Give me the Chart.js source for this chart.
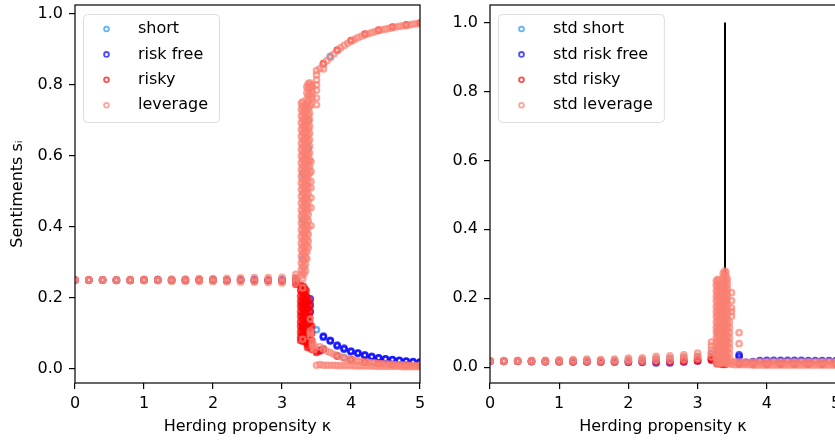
<!DOCTYPE html>
<html>
<head>
<meta charset="utf-8">
<script src="https://cdn.jsdelivr.net/npm/chart.js@4.4.0/dist/chart.umd.min.js"></script>
<style>
html, body { margin: 0; padding: 0; background: #fff; overflow: hidden; }
#wrap { position: relative; width: 835px; height: 441px; }
.panel { position: absolute; top: 0; }
#leftPanel { left: 0; }
#rightPanel { left: 425px; }
</style>
</head>
<body>
<div id="wrap">
  <div class="panel" id="leftPanel"><canvas id="sentimentChart" width="425" height="441"></canvas></div>
  <div class="panel" id="rightPanel"><canvas id="stdChart" width="420" height="441"></canvas></div>
</div>
<script>
// axis ticks
const kappaTicks = [0, 1, 2, 3, 4, 5];
const levelTicks = [0, 0.2, 0.4, 0.6, 0.8, 1.0];

const seriesNames = ['short', 'risk free', 'risky', 'leverage'];
const stdNames = ['std short', 'std risk free', 'std risky', 'std leverage'];

// each entry: [kappa, values over runs]
const shortSentiment = [
  [0, [0.25]], [0.2, [0.25]], [0.4, [0.25]], [0.6, [0.25]], [0.8, [0.25]], [1, [0.25]],
  [1.2, [0.25]], [1.4, [0.25]], [1.6, [0.251]], [1.8, [0.25]], [2, [0.249]], [2.2, [0.25]],
  [2.4, [0.251]], [2.6, [0.25]], [2.8, [0.249]], [3, [0.251]], [3.2, [0.248, 0.255]],
  [3.3, [0.31, 0.42, 0.55]], [3.38, [0.62, 0.7]],
  [3.5, [0.11]], [3.6, [0.056]], [3.7, [0.88]], [3.8, [0.037]], [3.9, [0.031]], [4, [0.026]],
  [4.2, [0.019]], [4.4, [0.015]], [4.6, [0.012]], [4.8, [0.01]], [5, [0.009]]
];

const riskFreeSentiment = [
  [0, [0.25]], [0.2, [0.25]], [0.4, [0.25]], [0.6, [0.25]], [0.8, [0.249]], [1, [0.25]],
  [1.2, [0.251]], [1.4, [0.25]], [1.6, [0.249]], [1.8, [0.25]], [2, [0.251]], [2.2, [0.249]],
  [2.4, [0.25]], [2.6, [0.251]], [2.8, [0.249]], [3, [0.25]], [3.2, [0.244, 0.252]],
  [3.3, [0.12, 0.18]], [3.41, [0.197, 0.18, 0.161]], [3.55, [0.052]],
  [3.6, [0.092, 0.089]], [3.7, [0.08, 0.078]], [3.8, [0.067, 0.064]], [3.9, [0.058, 0.055]],
  [4, [0.05, 0.048]], [4.1, [0.045, 0.043]], [4.2, [0.039, 0.037]], [4.3, [0.035, 0.033]],
  [4.4, [0.031, 0.03]], [4.5, [0.028, 0.027]], [4.6, [0.026, 0.025]], [4.7, [0.024, 0.023]],
  [4.8, [0.022, 0.021]], [4.9, [0.02, 0.019]], [5, [0.019, 0.018]]
];

const riskySentiment = [
  [0, [0.25]], [0.2, [0.25]], [0.4, [0.25]], [0.6, [0.249]], [0.8, [0.25]], [1, [0.251]],
  [1.2, [0.25]], [1.4, [0.249]], [1.6, [0.25]], [1.8, [0.251]], [2, [0.25]], [2.2, [0.249]],
  [2.4, [0.25]], [2.6, [0.248]], [2.8, [0.25]], [3, [0.247]], [3.2, [0.238, 0.245, 0.25]],
  [3.27, [0.235, 0.221, 0.205, 0.19, 0.177, 0.161, 0.148, 0.132, 0.119, 0.104, 0.09, 0.08]],
  [3.29, [0.228, 0.214, 0.198, 0.185, 0.17, 0.154, 0.141, 0.126, 0.111, 0.097, 0.083]],
  [3.31, [0.232, 0.217, 0.203, 0.187, 0.172, 0.158, 0.144, 0.129, 0.114, 0.1, 0.086, 0.077]],
  [3.33, [0.225, 0.21, 0.195, 0.181, 0.167, 0.152, 0.137, 0.123, 0.108, 0.094, 0.08]],
  [3.35, [0.22, 0.205, 0.19, 0.176, 0.161, 0.147, 0.131, 0.118, 0.103, 0.089, 0.075]],
  [3.37, [0.2, 0.185, 0.17, 0.156, 0.141, 0.127, 0.112, 0.098, 0.083, 0.069, 0.06]],
  [3.4, [0.19, 0.175, 0.161, 0.146, 0.131, 0.117, 0.102, 0.088, 0.073, 0.062]],
  [3.43, [0.12, 0.1, 0.08, 0.065, 0.055]],
  [3.5, [0.05, 0.046]], [3.55, [0.05]],
  [3.6, [0.86, 0.055]], [3.8, [0.898, 0.036]], [4, [0.925, 0.026]], [4.2, [0.943, 0.019]],
  [4.4, [0.954, 0.015]], [4.6, [0.963, 0.012]], [4.8, [0.969, 0.01]], [5, [0.974, 0.009]]
];

const leverageSentiment = [
  [0, [0.249, 0.25, 0.251]], [0.2, [0.249, 0.25, 0.251]], [0.4, [0.249, 0.25, 0.251]],
  [0.6, [0.249, 0.25, 0.251]], [0.8, [0.248, 0.25, 0.252]], [1, [0.248, 0.25, 0.252]],
  [1.2, [0.248, 0.25, 0.252]], [1.4, [0.247, 0.25, 0.253]], [1.6, [0.247, 0.25, 0.253]],
  [1.8, [0.246, 0.25, 0.254]], [2, [0.246, 0.25, 0.254]], [2.2, [0.245, 0.25, 0.255]],
  [2.4, [0.244, 0.25, 0.256]], [2.6, [0.244, 0.25, 0.257]], [2.8, [0.243, 0.25, 0.257]],
  [3, [0.242, 0.25, 0.258]], [3.2, [0.242, 0.25, 0.258, 0.266]],
  [3.28, [0.262, 0.279, 0.298, 0.317, 0.336, 0.354, 0.373, 0.392, 0.411, 0.43, 0.448, 0.467, 0.486, 0.505,
          0.524, 0.542, 0.561, 0.58, 0.599, 0.618, 0.636, 0.655, 0.674, 0.693, 0.712, 0.731, 0.748]],
  [3.3, [0.254, 0.271, 0.289, 0.308, 0.327, 0.345, 0.364, 0.383, 0.402, 0.421, 0.439, 0.458, 0.477, 0.496,
         0.515, 0.533, 0.552, 0.571, 0.59, 0.609, 0.627, 0.646, 0.665, 0.684, 0.703, 0.722, 0.74, 0.752,
         0.228, 0.083]],
  [3.32, [0.268, 0.287, 0.305, 0.324, 0.342, 0.361, 0.38, 0.398, 0.417, 0.436, 0.455, 0.473, 0.492, 0.511,
          0.53, 0.548, 0.567, 0.586, 0.604, 0.623, 0.642, 0.66, 0.679, 0.698, 0.717, 0.735]],
  [3.34, [0.276, 0.294, 0.313, 0.332, 0.35, 0.369, 0.388, 0.406, 0.425, 0.444, 0.463, 0.481, 0.5, 0.519,
          0.538, 0.556, 0.575, 0.594, 0.612, 0.631, 0.65, 0.668, 0.687, 0.706, 0.725, 0.744]],
  [3.36, [0.31, 0.329, 0.348, 0.366, 0.385, 0.404, 0.422, 0.441, 0.46, 0.478, 0.497, 0.516, 0.535, 0.553,
          0.572, 0.591, 0.609, 0.628, 0.647, 0.666, 0.684, 0.703, 0.722, 0.741, 0.759, 0.778, 0.795]],
  [3.38, [0.342, 0.36, 0.379, 0.398, 0.417, 0.435, 0.454, 0.473, 0.491, 0.51, 0.529, 0.547, 0.566, 0.585,
          0.604, 0.622, 0.641, 0.66, 0.678, 0.697, 0.716, 0.735, 0.753, 0.772, 0.79, 0.803]],
  [3.4, [0.552, 0.571, 0.589, 0.608, 0.627, 0.645, 0.664, 0.683, 0.702, 0.72, 0.739, 0.758, 0.776, 0.794, 0.806]],
  [3.41, [0.14, 0.107, 0.1, 0.09]],
  [3.42, [0.744, 0.584, 0.556, 0.528, 0.51, 0.482, 0.454, 0.403, 0.77, 0.79, 0.8]],
  [3.44, [0.762, 0.78, 0.797, 0.075, 0.068, 0.06]],
  [3.47, [0.065, 0.055]],
  [3.5, [0.744, 0.763, 0.785, 0.8, 0.814, 0.828, 0.84, 0.01]],
  [3.55, [0.846, 0.062, 0.012]], [3.6, [0.845, 0.858, 0.056, 0.01]], [3.65, [0.868, 0.05, 0.01]],
  [3.7, [0.877, 0.046, 0.01]], [3.75, [0.887, 0.041, 0.01]], [3.8, [0.896, 0.037, 0.009]],
  [3.85, [0.904, 0.034, 0.009]], [3.9, [0.911, 0.031, 0.009]], [3.95, [0.917, 0.028, 0.009]],
  [4, [0.923, 0.026, 0.009]], [4.05, [0.928, 0.024, 0.008]], [4.1, [0.933, 0.022, 0.008]],
  [4.15, [0.937, 0.02, 0.008]], [4.2, [0.941, 0.019, 0.008]], [4.25, [0.944, 0.018, 0.008]],
  [4.3, [0.947, 0.017, 0.008]], [4.35, [0.95, 0.016, 0.007]], [4.4, [0.953, 0.015, 0.007]],
  [4.45, [0.955, 0.014, 0.007]], [4.5, [0.957, 0.014, 0.007]], [4.55, [0.959, 0.013, 0.007]],
  [4.6, [0.961, 0.012, 0.007]], [4.65, [0.963, 0.012, 0.007]], [4.7, [0.965, 0.011, 0.007]],
  [4.75, [0.966, 0.011, 0.006]], [4.8, [0.968, 0.01, 0.006]], [4.85, [0.969, 0.01, 0.006]],
  [4.9, [0.971, 0.01, 0.006]], [4.95, [0.972, 0.009, 0.006]], [5, [0.974, 0.009, 0.006]]
];

// standard deviations across runs
const shortStd = [
  [0, [0.018]], [0.2, [0.018]], [0.4, [0.018]], [0.6, [0.018]], [0.8, [0.018]], [1, [0.019]],
  [1.2, [0.019]], [1.4, [0.019]], [1.6, [0.019]], [1.8, [0.019]], [2, [0.02]], [2.2, [0.021]],
  [2.4, [0.023]], [2.6, [0.024]], [2.8, [0.027]], [3, [0.03]], [3.2, [0.04]],
  [3.3, [0.05, 0.1]], [3.4, [0.12, 0.2]],
  [3.6, [0.012]], [3.8, [0.011]], [4, [0.011]], [4.2, [0.011]], [4.4, [0.01]], [4.6, [0.01]], [4.8, [0.01]], [5, [0.01]]
];

const riskFreeStd = [
  [0, [0.017]], [0.2, [0.017]], [0.4, [0.017]], [0.6, [0.016]], [0.8, [0.016]], [1, [0.016]],
  [1.2, [0.015]], [1.4, [0.015]], [1.6, [0.015]], [1.8, [0.015]], [2, [0.014]], [2.2, [0.014]],
  [2.4, [0.012]], [2.6, [0.012]], [2.8, [0.015]], [3, [0.018]], [3.2, [0.022]],
  [3.3, [0.02, 0.05]], [3.4, [0.03, 0.08]], [3.6, [0.036, 0.03]],
  [3.7, [0.014]], [3.8, [0.016]], [3.9, [0.019]], [4, [0.02]], [4.1, [0.02]], [4.2, [0.02]],
  [4.3, [0.02]], [4.4, [0.02]], [4.5, [0.02]], [4.6, [0.019]], [4.7, [0.019]], [4.8, [0.019]],
  [4.9, [0.019]], [5, [0.019]]
];

const riskyStd = [
  [0, [0.017]], [0.2, [0.017]], [0.4, [0.017]], [0.6, [0.017]], [0.8, [0.016]], [1, [0.016]],
  [1.2, [0.016]], [1.4, [0.016]], [1.6, [0.015]], [1.8, [0.015]], [2, [0.015]], [2.2, [0.015]],
  [2.4, [0.016]], [2.6, [0.015]], [2.8, [0.016, 0.02]], [3, [0.018, 0.022]], [3.2, [0.02, 0.025, 0.03]],
  [3.28, [0.01, 0.02, 0.03]], [3.32, [0.01, 0.02]], [3.36, [0.008, 0.015]], [3.4, [0.008]],
  [3.6, [0.009]], [3.8, [0.008]], [4, [0.008]], [4.2, [0.008]], [4.4, [0.008]], [4.6, [0.008]],
  [4.8, [0.008]], [5, [0.008]]
];

const leverageStd = [
  [0, [0.017, 0.018, 0.019]], [0.2, [0.017, 0.018, 0.019]], [0.4, [0.017, 0.018, 0.02]],
  [0.6, [0.016, 0.018, 0.02]], [0.8, [0.016, 0.018, 0.02]], [1, [0.016, 0.019, 0.021]],
  [1.2, [0.016, 0.019, 0.022]], [1.4, [0.016, 0.019, 0.023]], [1.6, [0.016, 0.019, 0.022]],
  [1.8, [0.016, 0.019, 0.023]], [2, [0.017, 0.021, 0.026]], [2.2, [0.017, 0.022, 0.027]],
  [2.4, [0.019, 0.025, 0.031]], [2.6, [0.019, 0.026, 0.033]], [2.8, [0.021, 0.029, 0.036]],
  [3, [0.024, 0.032, 0.041]], [3.2, [0.03, 0.04, 0.05, 0.062, 0.073]],
  [3.27, [0.012, 0.026, 0.041, 0.057, 0.071, 0.086, 0.102, 0.116, 0.131, 0.147, 0.161, 0.176, 0.192, 0.206, 0.221, 0.237, 0.25]],
  [3.29, [0.018, 0.033, 0.048, 0.062, 0.078, 0.093, 0.108, 0.122, 0.138, 0.153, 0.168, 0.182, 0.198, 0.213, 0.228, 0.242, 0.255]],
  [3.31, [0.01, 0.025, 0.04, 0.055, 0.07, 0.085, 0.1, 0.115, 0.13, 0.145, 0.16, 0.175, 0.19, 0.205, 0.22, 0.235, 0.252]],
  [3.33, [0.015, 0.03, 0.045, 0.06, 0.075, 0.09, 0.105, 0.12, 0.135, 0.15, 0.165, 0.18, 0.195, 0.21, 0.225, 0.24]],
  [3.35, [0.012, 0.027, 0.042, 0.057, 0.072, 0.087, 0.102, 0.117, 0.132, 0.147, 0.162, 0.177, 0.192, 0.207, 0.222]],
  [3.37, [0.02, 0.035, 0.05, 0.065, 0.08, 0.095, 0.11, 0.125, 0.14, 0.155, 0.17, 0.185, 0.2, 0.215, 0.23, 0.245, 0.26, 0.272]],
  [3.39, [0.013, 0.028, 0.043, 0.058, 0.073, 0.088, 0.103, 0.118, 0.133, 0.148, 0.163, 0.178, 0.193, 0.208, 0.223, 0.238, 0.253, 0.268, 0.279]],
  [3.41, [0.01, 0.024, 0.039, 0.054, 0.069, 0.084, 0.099, 0.114, 0.129, 0.144, 0.159, 0.174, 0.189, 0.204, 0.219, 0.234, 0.249, 0.264, 0.276]],
  [3.43, [0.016, 0.031, 0.046, 0.061, 0.076, 0.091, 0.106, 0.121, 0.136, 0.151, 0.166, 0.181, 0.196, 0.211, 0.226, 0.24, 0.255]],
  [3.46, [0.01, 0.025, 0.04, 0.055, 0.07, 0.085, 0.1, 0.115, 0.13]],
  [3.49, [0.216, 0.193, 0.172, 0.161, 0.148]],
  [3.5, [0.016, 0.008]], [3.55, [0.015, 0.007]], [3.6, [0.1, 0.068, 0.015, 0.007]], [3.65, [0.015, 0.007]],
  [3.7, [0.014, 0.007]], [3.75, [0.014, 0.007]], [3.8, [0.015, 0.006]], [3.85, [0.014, 0.006]],
  [3.9, [0.015, 0.006]], [3.95, [0.014, 0.006]], [4, [0.015, 0.006]], [4.05, [0.014, 0.006]],
  [4.1, [0.015, 0.006]], [4.15, [0.014, 0.006]], [4.2, [0.015, 0.006]], [4.25, [0.014, 0.006]],
  [4.3, [0.015, 0.006]], [4.35, [0.014, 0.006]], [4.4, [0.015, 0.006]], [4.45, [0.014, 0.006]],
  [4.5, [0.015, 0.006]], [4.55, [0.014, 0.006]], [4.6, [0.015, 0.006]], [4.65, [0.014, 0.006]],
  [4.7, [0.015, 0.006]], [4.75, [0.014, 0.006]], [4.8, [0.015, 0.006]], [4.85, [0.014, 0.006]],
  [4.9, [0.015, 0.006]], [4.95, [0.014, 0.006]], [5, [0.015, 0.006]]
];

// vertical marker at the critical herding propensity
const criticalKappa = 3.396;
const criticalSpan = [0, 1];

const seriesColors = [
  'rgba(30, 144, 255, 0.7)',
  'rgba(0, 0, 255, 0.7)',
  'rgba(255, 0, 0, 0.7)',
  'rgba(250, 128, 114, 0.7)'
];

const FONT = { family: '"DejaVu Sans", sans-serif', size: 16 };

const toPoints = cols => cols.flatMap(([k, vals]) => vals.map(v => ({ x: k, y: v })));

function scatterSet(label, cols, i) {
    return {
        label: label,
        data: toPoints(cols),
        borderColor: seriesColors[i],
        backgroundColor: 'rgba(0,0,0,0)',
        pointRadius: 2.6,
        pointBorderWidth: 2.5,
        clip: 0,
        order: 4 - i   // later series drawn on top
    };
}

// axes box like matplotlib spines
const framePlugin = {
    id: 'axesFrame',
    afterDatasetsDraw(chart) {
        const { ctx, chartArea: a } = chart;
        ctx.save();
        ctx.strokeStyle = '#000';
        ctx.lineWidth = 1.2;
        ctx.strokeRect(a.left, a.top, a.right - a.left, a.bottom - a.top);
        ctx.restore();
    }
};

const boxLegend = {
    id: 'boxLegend',
    afterDatasetsDraw(chart, args, opts) {
        const ctx = chart.ctx;
        const x0 = chart.chartArea.left + 8, y0 = 14;
        ctx.save();
        ctx.font = '16px "DejaVu Sans"';
        const textW = Math.max(...opts.labels.map(l => ctx.measureText(l).width));
        const w = 55 + textW + 11, h = 108;
        ctx.beginPath();
        ctx.roundRect(x0 + 0.5, y0 + 0.5, w, h, 4);
        ctx.fillStyle = 'rgba(255,255,255,0.8)';
        ctx.fill();
        ctx.strokeStyle = '#dcdcdc';
        ctx.lineWidth = 1;
        ctx.stroke();
        opts.labels.forEach((label, i) => {
            const y = 29 + i * 25.4;
            ctx.beginPath();
            ctx.arc(x0 + 23.5, y, 2.4, 0, 2 * Math.PI);
            ctx.strokeStyle = seriesColors[i];
            ctx.lineWidth = 1.8;
            ctx.stroke();
            ctx.fillStyle = '#000';
            ctx.textBaseline = 'middle';
            ctx.fillText(label, x0 + 55, y);
        });
        ctx.restore();
    }
};

function makeChart(canvasId, datasets, cfg) {
    const tickGrid = { drawOnChartArea: false, drawTicks: true, tickLength: 6, color: '#000', lineWidth: 1.2 };
    return new Chart(document.getElementById(canvasId), {
        type: 'scatter',
        data: { datasets: datasets },
        options: {
            responsive: false,
            animation: false,
            events: [],
            layout: { autoPadding: false, padding: { left: 0, top: 5, right: cfg.padRight, bottom: 0 } },
            plugins: {
                legend: { display: false },
                tooltip: { enabled: false },
                boxLegend: { labels: cfg.labels }
            },
            scales: {
                x: {
                    type: 'linear',
                    min: 0,
                    max: 5,
                    afterFit: s => { s.height = 58; s.paddingLeft = 0; s.paddingRight = 0; },
                    afterBuildTicks: s => { s.ticks = kappaTicks.map(v => ({ value: v })); },
                    grid: tickGrid,
                    border: { display: false },
                    ticks: { color: '#000', font: FONT, padding: 5, maxRotation: 0, callback: v => String(v) },
                    title: {
                        display: true,
                        text: 'Herding propensity κ',
                        color: '#000',
                        font: FONT,
                        padding: { top: 0, bottom: 4.4 }
                    }
                },
                y: {
                    type: 'linear',
                    min: cfg.yMin,
                    max: cfg.yMax,
                    afterFit: s => { s.width = cfg.yWidth; s.paddingTop = 0; s.paddingBottom = 0; },
                    afterBuildTicks: s => { s.ticks = levelTicks.map(v => ({ value: v })); },
                    grid: tickGrid,
                    border: { display: false },
                    ticks: { color: '#000', font: FONT, padding: 6, callback: v => v.toFixed(1) },
                    title: {
                        display: !!cfg.yTitle,
                        text: cfg.yTitle || '',
                        color: '#000',
                        font: FONT,
                        padding: { top: 8.4, bottom: 0 }
                    }
                }
            }
        },
        plugins: [framePlugin, boxLegend]
    });
}

const sentimentSets = [shortSentiment, riskFreeSentiment, riskySentiment, leverageSentiment]
    .map((cols, i) => scatterSet(seriesNames[i], cols, i));

const stdSets = [shortStd, riskFreeStd, riskyStd, leverageStd]
    .map((cols, i) => scatterSet(stdNames[i], cols, i));

stdSets.push({
    type: 'line',
    label: 'critical',
    data: criticalSpan.map(v => ({ x: criticalKappa, y: v })),
    borderColor: '#000',
    borderWidth: 2,
    pointRadius: 0,
    showLine: true,
    order: 10
});

makeChart('sentimentChart', sentimentSets, {
    padRight: 5, yWidth: 75, yMin: -0.04, yMax: 1.025,
    yTitle: 'Sentiments sᵢ', labels: seriesNames
});

makeChart('stdChart', stdSets, {
    padRight: 9, yWidth: 65, yMin: -0.046, yMax: 1.051,
    yTitle: null, labels: stdNames
});
</script>
</body>
</html>
